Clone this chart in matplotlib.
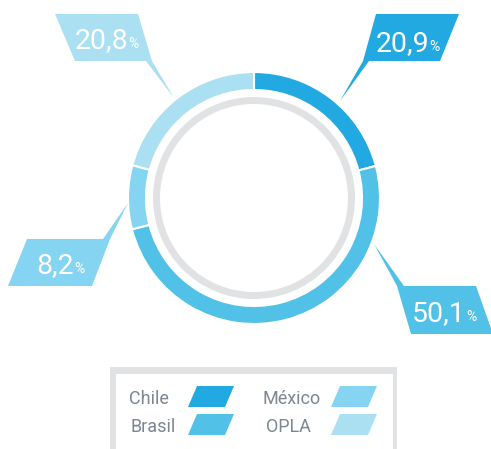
import matplotlib.pyplot as plt
from matplotlib.patches import Polygon, Rectangle, Wedge

# data
categories = ['Chile', 'Brasil', 'México', 'OPLA']
shares = [20.9, 50.1, 8.2, 20.8]
colors = ['#22a9e1', '#51c1e8', '#85d4f1', '#abdff2']

W, H = 491, 449
cx, cy = 254, 198
r_out, ring_w = 126, 18

plt.rcParams['font.family'] = ['Roboto', 'DejaVu Sans']

fig = plt.figure(figsize=(W / 100, H / 100), dpi=100)
ax = fig.add_axes([0, 0, 1, 1])

# y axis is inverted below, so start at -90 and go counter-clockwise in data
# space to get a clockwise ring starting at 12 o'clock
ax.pie(shares, colors=colors, startangle=-90, counterclock=True,
       radius=r_out, center=(cx, cy),
       wedgeprops=dict(width=ring_w, edgecolor='white', linewidth=1.5))

# inner grey ring
ax.add_patch(Wedge((cx, cy), 101, 0, 360, width=7, facecolor='#e1e2e4',
                   edgecolor='none'))

# callouts (pixel layout): polygon incl. leader spike, number end x, baseline
callouts = {
    'Chile': ([(376, 14), (459, 14), (440, 61), (369, 61), (340, 101), (363, 61)], 429, 51),
    'OPLA': ([(55, 14), (138, 14), (152, 61), (174, 98), (146, 61), (75, 61)], 128, 48),
    'México': ([(27, 239), (103, 239), (128, 203), (110, 239), (92, 286), (8, 286)], 74, 273),
    'Brasil': ([(397, 286), (404, 286), (374, 244), (397, 286), (476, 286), (493, 334), (411, 334)], 466, 321),
}

for name, val, col in zip(categories, shares, colors):
    poly, xe, yb = callouts[name]
    ax.add_patch(Polygon(poly, closed=True, facecolor=col, edgecolor='none'))
    ax.text(xe, yb, f'{val:.1f}'.replace('.', ','), color='white', fontsize=20.5,
            ha='right', va='baseline')
    ax.text(xe, yb, '%', color='white', fontsize=10,
            ha='left', va='baseline')

# legend box
ax.add_patch(Rectangle((110, 367), 287, 100, facecolor='#e1e2e4', edgecolor='none'))
ax.add_patch(Rectangle((116, 374), 277, 100, facecolor='white', edgecolor='none'))

leg_pos = [(129, 188, 404), (131, 188, 432), (263, 331, 404), (266, 331, 432)]
for name, col, (tx, sx, yb) in zip(categories, colors, leg_pos):
    ax.text(tx, yb, name, color='#7d8591', fontsize=13, ha='left', va='baseline')
    y0 = yb + 3
    ax.add_patch(Polygon([(sx, y0), (sx + 37, y0), (sx + 46, y0 - 21), (sx + 9, y0 - 21)],
                         closed=True, facecolor=col, edgecolor='none'))

ax.set_xlim(0, W)
ax.set_ylim(H, 0)
ax.set_aspect('equal')
ax.axis('off')

fig.savefig('out.png', dpi=100)
